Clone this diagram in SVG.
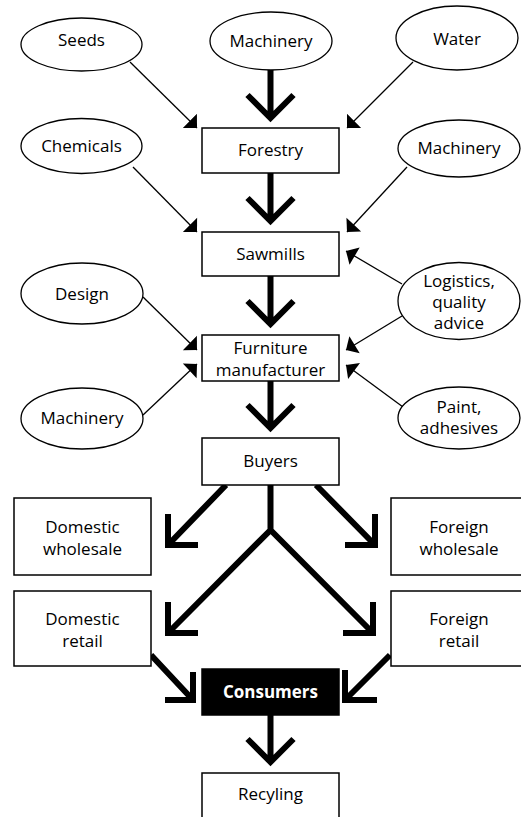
<svg xmlns="http://www.w3.org/2000/svg" width="521" height="817" viewBox="0 0 521 817">
  <style>
    .ell { fill: #fff; stroke: #000; stroke-width: 1.3; }
    .box { fill: #fff; stroke: #000; stroke-width: 1.5; }
    .dark { fill: #000; stroke: #000; stroke-width: 1.5; }
    .lbl { font-family: "Open Sans", "Noto Sans", "Liberation Sans", sans-serif; font-size: 17px; fill: #000; text-anchor: middle; }
    .lbl-w { font-family: "Open Sans", "Noto Sans", "Liberation Sans", sans-serif; font-size: 17px; font-weight: bold; fill: #fff; text-anchor: middle; }
    .thin { fill: none; stroke: #000; stroke-width: 1.3; marker-end: url(#tri); }
    .flow { fill: none; stroke: #000; stroke-width: 6; stroke-linejoin: miter; stroke-linecap: butt; }
  </style>
  <defs>
    <marker id="tri" markerUnits="userSpaceOnUse" markerWidth="12" markerHeight="22" viewBox="0 -11 11 22" refX="10" refY="0" orient="auto">
      <path d="M0,-10 L10,0 L0,10 z" fill="#000"/>
    </marker>
  </defs>

  <!-- connectors -->
  <g id="connectors">
    <!-- input lines -->
    <path class="thin" d="M130,62 L197,128"/>
    <path class="thin" d="M413,62 L347,128"/>
    <path class="thin" d="M133,167 L197,232"/>
    <path class="thin" d="M407,167 L347,232"/>
    <path class="thin" d="M402,284 L346,251"/>
    <path class="thin" d="M402,316 L346,350"/>
    <path class="thin" d="M403,407 L346,365"/>
    <path class="thin" d="M143,297 L197,350"/>
    <path class="thin" d="M143,415 L197,364"/>

    <!-- main flow -->
    <path class="flow" d="M270.5,70 V118 M247.5,95 L270.5,118 L293.5,95"/>
    <path class="flow" d="M270.5,173 V221 M247.5,198 L270.5,221 L293.5,198"/>
    <path class="flow" d="M270.5,276 V324 M247.5,301 L270.5,324 L293.5,301"/>
    <path class="flow" d="M270.5,381 V428 M247.5,405 L270.5,428 L293.5,405"/>
    <path class="flow" d="M270.5,715 V762 M247.5,739 L270.5,762 L293.5,739"/>

    <!-- buyers to wholesale -->
    <path class="flow" d="M226,485 L168,545 M168,514 V545 H198"/>
    <path class="flow" d="M316,485 L375,545 M375,514 V545 H345"/>

    <!-- buyers to retail -->
    <path class="flow" d="M270.5,485 V530 L168,633 M270.5,530 L373,633"/>
    <path class="flow" d="M168,602 V633 H198 M373,602 V633 H343"/>

    <!-- retail to consumers -->
    <path class="flow" d="M151,655 L193,700 M193,672 V700 H165"/>
    <path class="flow" d="M390,655 L345,700 M345,670 V700 H377"/>
  </g>

  <!-- inputs -->
  <g id="seeds"><ellipse class="ell" cx="81.5" cy="44.5" rx="60.5" ry="26.5"/><text class="lbl" x="81.5" y="46">Seeds</text></g>
  <g id="machinery-top"><ellipse class="ell" cx="271" cy="41" rx="61" ry="29"/><text class="lbl" x="271" y="47">Machinery</text></g>
  <g id="water"><ellipse class="ell" cx="457" cy="38" rx="61" ry="32"/><text class="lbl" x="457" y="45">Water</text></g>
  <g id="chemicals"><ellipse class="ell" cx="81.5" cy="146" rx="60.5" ry="27.5"/><text class="lbl" x="81.5" y="152">Chemicals</text></g>
  <g id="machinery-saw"><ellipse class="ell" cx="459" cy="148.5" rx="61" ry="28.5"/><text class="lbl" x="459" y="154">Machinery</text></g>
  <g id="design"><ellipse class="ell" cx="82" cy="293.5" rx="61" ry="30.5"/><text class="lbl" x="82" y="300">Design</text></g>
  <g id="logistics"><ellipse class="ell" cx="459" cy="301" rx="61" ry="38.5"/>
    <text class="lbl" x="459" y="287">Logistics,</text>
    <text class="lbl" x="459" y="308">quality</text>
    <text class="lbl" x="459" y="329">advice</text>
  </g>
  <g id="machinery-furn"><ellipse class="ell" cx="82" cy="418.5" rx="61" ry="30.5"/><text class="lbl" x="82" y="424">Machinery</text></g>
  <g id="paint"><ellipse class="ell" cx="459" cy="418" rx="61" ry="31"/>
    <text class="lbl" x="459" y="413">Paint,</text>
    <text class="lbl" x="459" y="434">adhesives</text>
  </g>

  <!-- chain stages -->
  <g id="forestry"><rect class="box" x="202" y="128" width="137" height="45"/><text class="lbl" x="270.5" y="156">Forestry</text></g>
  <g id="sawmills"><rect class="box" x="202" y="232" width="137" height="44"/><text class="lbl" x="270.5" y="260">Sawmills</text></g>
  <g id="furniture"><rect class="box" x="202" y="335" width="137" height="46"/>
    <text class="lbl" x="270.5" y="354">Furniture</text>
    <text class="lbl" x="270.5" y="376">manufacturer</text>
  </g>
  <g id="buyers"><rect class="box" x="202" y="438" width="137" height="47"/><text class="lbl" x="270.5" y="467">Buyers</text></g>
  <g id="domestic-wholesale"><rect class="box" x="14" y="498" width="137" height="77"/>
    <text class="lbl" x="82.5" y="533">Domestic</text>
    <text class="lbl" x="82.5" y="555">wholesale</text>
  </g>
  <g id="foreign-wholesale"><rect class="box" x="391" y="498" width="137" height="77"/>
    <text class="lbl" x="459" y="533">Foreign</text>
    <text class="lbl" x="459" y="555">wholesale</text>
  </g>
  <g id="domestic-retail"><rect class="box" x="14" y="591" width="137" height="75"/>
    <text class="lbl" x="82.5" y="625">Domestic</text>
    <text class="lbl" x="82.5" y="647">retail</text>
  </g>
  <g id="foreign-retail"><rect class="box" x="391" y="591" width="137" height="75"/>
    <text class="lbl" x="459" y="625">Foreign</text>
    <text class="lbl" x="459" y="647">retail</text>
  </g>
  <g id="consumers"><rect class="dark" x="202" y="669" width="137" height="46"/><text class="lbl-w" x="270.5" y="698">Consumers</text></g>
  <g id="recycling"><rect class="box" x="202" y="773" width="137" height="50"/><text class="lbl" x="270.5" y="800">Recyling</text></g>
</svg>
